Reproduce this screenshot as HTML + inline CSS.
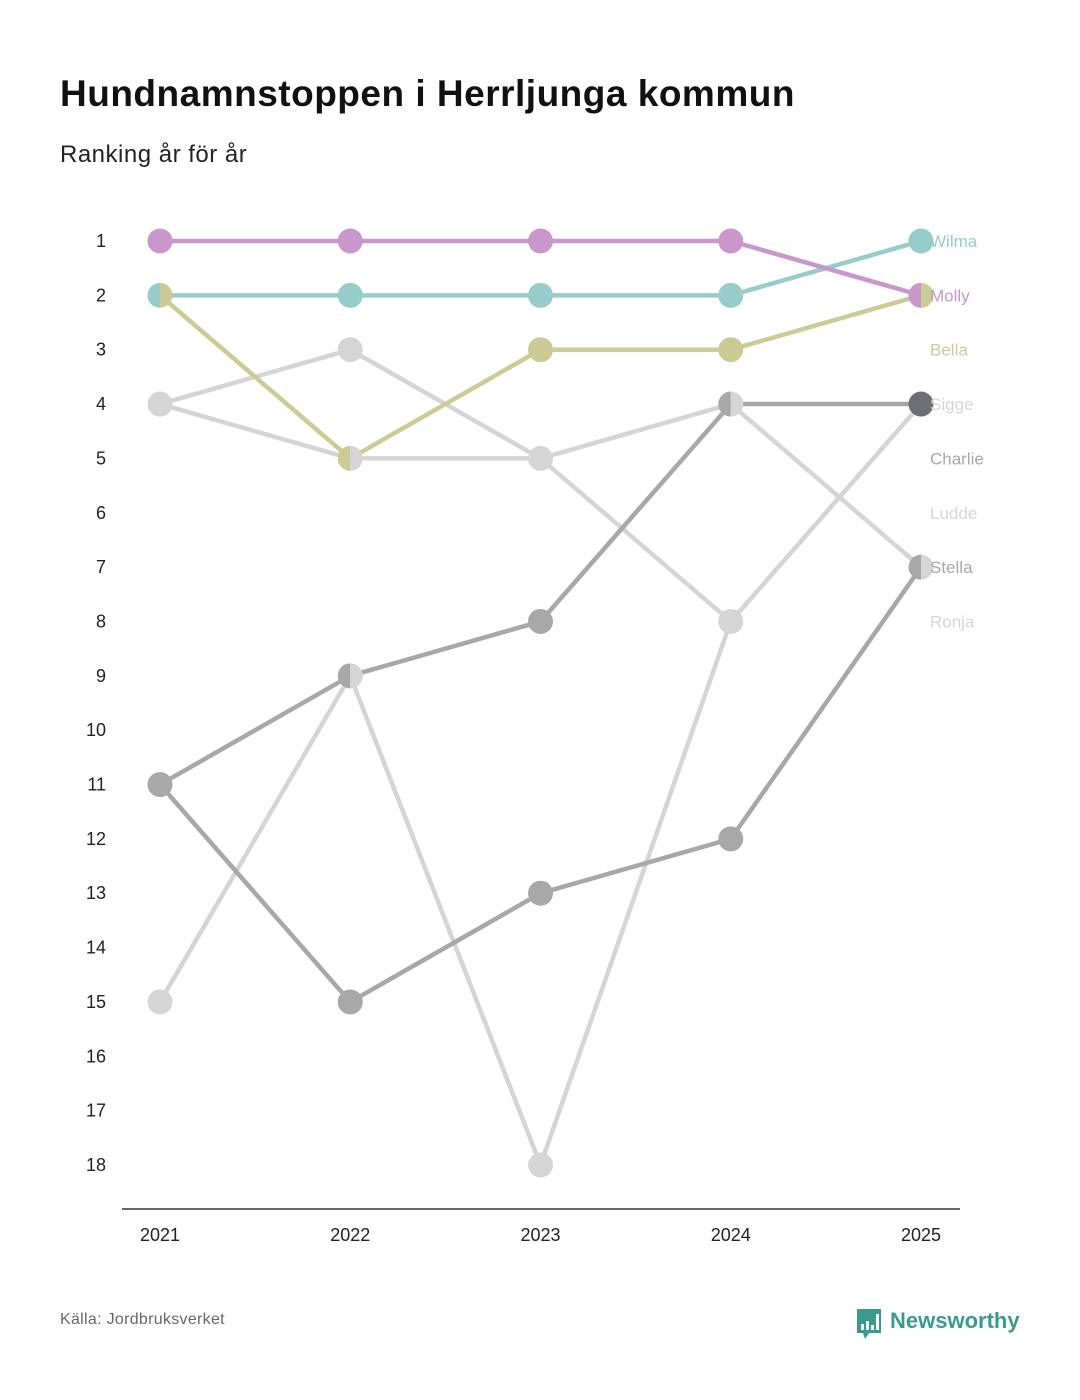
<!DOCTYPE html>
<html><head><meta charset="utf-8">
<style>
body{margin:0;background:#fff;font-family:"Liberation Sans",sans-serif;}
#wrap{position:relative;width:1080px;height:1400px;overflow:hidden;}
.t{position:absolute;white-space:nowrap;}
</style></head>
<body>
<div id="wrap">
<div class="t" style="left:60px;top:73px;font-size:37px;letter-spacing:0.5px;font-weight:bold;color:#111;">Hundnamnstoppen i Herrljunga kommun</div>
<div class="t" style="left:60px;top:141px;font-size:24px;letter-spacing:0.5px;color:#222;">Ranking år för år</div>
<svg id="chart" width="1080" height="1400" style="position:absolute;left:0;top:0"></svg>
<div class="t" style="left:60px;top:1311px;font-size:16px;letter-spacing:0.3px;color:#666;">Källa: Jordbruksverket</div>
<div style="position:absolute;left:855px;top:1307px;">
<svg width="28" height="34" style="position:absolute;left:0;top:0"><path d="M2 2 H26 V26 H14 L10 32 L8 26 H2 Z" fill="#3a9a8f"/><rect x="6" y="17" width="3" height="6" fill="#fff"/><rect x="11" y="14" width="3" height="9" fill="#fff"/><rect x="16" y="18" width="3" height="5" fill="#fff"/><rect x="21" y="7" width="3" height="16" fill="#fff"/></svg>
<div class="t" style="left:35px;top:1px;font-size:22px;font-weight:bold;color:#3a9a8f;">Newsworthy</div>
</div>
</div>
<script>
const years=[2021,2022,2023,2024,2025];
const names=["Molly","Wilma","Bella","Charlie","Stella","Sigge","Ludde","Ronja"];
const molly=[1,1,1,1,2];
const wilma=[2,2,2,2,1];
const bella=[2,5,3,3,2];
const charlie=[11,9,8,4,4];
const stella=[11,15,13,12,7];
const sigge=[4,3,5,8,4];
const ludde=[4,5,5,4,7];
const ronja=[15,9,18,8,4];
const labelOrder=["Wilma","Molly","Bella","Sigge","Charlie","Ludde","Stella","Ronja"];
const rankTicks=[1,2,3,4,5,6,7,8,9,10,11,12,13,14,15,16,17,18];

const series=[molly,wilma,bella,charlie,stella,sigge,ludde,ronja];
const colors={Molly:"#c997cb",Wilma:"#96cdcb",Bella:"#cccb96",Charlie:"#a8a8a8",Stella:"#a8a8a8",Sigge:"#d5d5d5",Ludde:"#d5d5d5",Ronja:"#d5d5d5"};
const NS="http://www.w3.org/2000/svg";
const svg=document.getElementById('chart');
const x=i=>160+i*190.25;
const y=r=>241+(r-1)*(1165-241)/17;
function mk(t,a){const e=document.createElementNS(NS,t);for(const k in a)e.setAttribute(k,a[k]);svg.appendChild(e);return e;}
rankTicks.forEach(r=>{const e=mk('text',{x:106,y:y(r)+6,'text-anchor':'end','font-size':18,fill:'#222'});e.textContent=r;

});
const ax=mk('line',{x1:122,x2:960,y1:1209,y2:1209,stroke:'#333','stroke-width':1.5});


years.forEach((yr,i)=>{const e=mk('text',{x:x(i),y:1241,'text-anchor':'middle','font-size':18,fill:'#222'});e.textContent=yr;

});
[7,6,5,4,3,2,1,0].forEach(si=>{const d=series[si].map((r,i)=>(i?'L':'M')+x(i)+' '+y(r)).join(' ');
const p=mk('path',{d:d,fill:'none',stroke:colors[names[si]],'stroke-width':4.5,'stroke-linejoin':'round'});

});
const R=12.5;
years.forEach((yr,i)=>{const groups={};series.forEach((s,si)=>{(groups[s[i]]=groups[s[i]]||[]).push(si);});
for(const r in groups){const g=groups[r];const cx=x(i),cy=y(+r);let el;
if(g.length==1){el=mk('circle',{cx:cx,cy:cy,r:R,fill:colors[names[g[0]]]});}
else if(g.length==2){el=mk('g',{});
const a=document.createElementNS(NS,'path');a.setAttribute('d',`M${cx} ${cy-R} A${R} ${R} 0 0 0 ${cx} ${cy+R} Z`);a.setAttribute('fill',colors[names[g[0]]]);el.appendChild(a);
const b=document.createElementNS(NS,'path');b.setAttribute('d',`M${cx} ${cy-R} A${R} ${R} 0 0 1 ${cx} ${cy+R} Z`);b.setAttribute('fill',colors[names[g[1]]]);el.appendChild(b);}
else{el=mk('circle',{cx:cx,cy:cy,r:R,fill:'#6d6d75'});}

}});
labelOrder.forEach((n,k)=>{const e=mk('text',{x:930,y:y(k+1)+6,'font-size':17,fill:colors[n]});e.textContent=n;

});
</script>
</body></html>
